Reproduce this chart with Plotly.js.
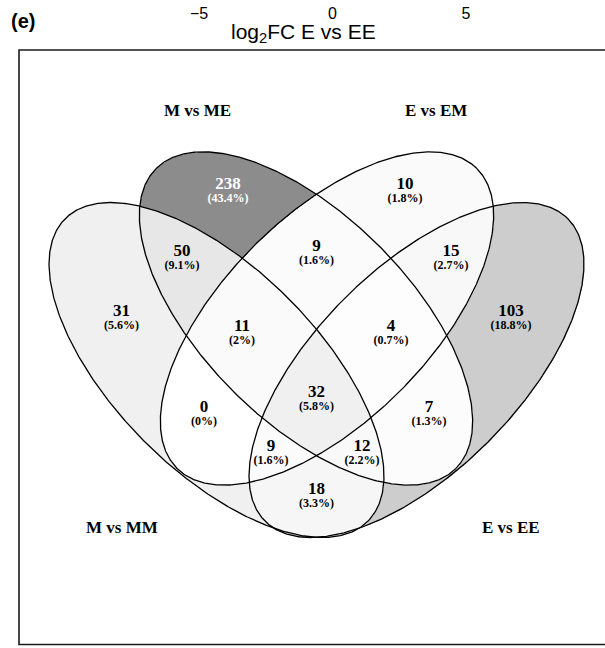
<!DOCTYPE html>
<html>
<head>
<meta charset="utf-8">
<script src="https://cdn.plot.ly/plotly-3.0.1.min.js"></script>
<style>html,body{margin:0;padding:0;background:#fff;}#chart{width:605px;height:648px;}</style>
</head>
<body>
<div id="chart"></div>
<script>
// ---- data ----
const setNames = ['M vs MM', 'M vs ME', 'E vs EM', 'E vs EE'];          // sets A, B, C, D
const regionSets = ['A', 'B', 'C', 'D', 'AB', 'AC', 'AD', 'BC', 'BD', 'CD', 'ABC', 'ABD', 'ACD', 'BCD', 'ABCD'];
const regionCounts = [31, 238, 10, 103, 50, 0, 18, 9, 7, 15, 11, 12, 9, 4, 32];
const regionPercents = ['5.6%', '43.4%', '1.8%', '18.8%', '9.1%', '0%', '3.3%', '1.6%', '1.3%', '2.7%', '2%', '2.2%', '1.6%', '0.7%', '5.8%'];
const topTickVals = [-5, 0, 5];
const topAxisTitle = 'log<sub>2</sub>FC E vs EE';
const panelTag = '(e)';

// ---- layout geometry (pixel-like coordinates, y downward) ----
const ellipses = [
  {cx: 216.5, cy: 370, a: 214, b: 101.5, ang: 45},
  {cx: 306, cy: 318.5, a: 212, b: 103, ang: 45},
  {cx: 327, cy: 318.5, a: 212, b: 103, ang: -45},
  {cx: 416.5, cy: 370, a: 214, b: 101.5, ang: -45}
];
const labelPos = {
  A: [121.5, 312], B: [228, 185], C: [405, 185], D: [511, 312],
  AB: [182, 252], AC: [204, 408], AD: [316.5, 490], BC: [316.5, 247],
  BD: [429, 408], CD: [451, 252], ABC: [242, 327], ABD: [362, 447],
  ACD: [271, 447], BCD: [391, 327], ABCD: [316.5, 393]
};
const setLabelPos = [[121.5, 527], [197, 110], [436, 110], [511, 527]];
const letters = ['A', 'B', 'C', 'D'];

function inside(e, x, y) {
  const t = e.ang * Math.PI / 180;
  const dx = x - e.cx, dy = y - e.cy;
  const u = dx * Math.cos(t) + dy * Math.sin(t);
  const v = -dx * Math.sin(t) + dy * Math.cos(t);
  return (u * u) / (e.a * e.a) + (v * v) / (e.b * e.b) <= 1;
}

const regionIndex = {};
regionSets.forEach((k, i) => regionIndex[k] = i);

// fill raster: each cell coloured by the count of its region
const gx = [], gy = [], gz = [];
for (let x = 40; x <= 595; x += 1) gx.push(x);
for (let y = 145; y <= 545; y += 1) gy.push(y);
for (const y of gy) {
  const row = [];
  for (const x of gx) {
    let key = '';
    ellipses.forEach((e, i) => { if (inside(e, x, y)) key += letters[i]; });
    row.push(key ? regionCounts[regionIndex[key]] : null);
  }
  gz.push(row);
}
const maxCount = Math.max(...regionCounts);

const traces = [{
  type: 'heatmap', x: gx, y: gy, z: gz, zmin: 0, zmax: maxCount,
  colorscale: [[0, 'rgb(255,255,255)'], [1, 'rgb(140,140,140)']],
  showscale: false, hoverinfo: 'skip', xaxis: 'x', yaxis: 'y'
}];

// outlines
ellipses.forEach(e => {
  const t = e.ang * Math.PI / 180, xs = [], ys = [];
  for (let k = 0; k <= 720; k++) {
    const s = k / 720 * 2 * Math.PI;
    const u = e.a * Math.cos(s), v = e.b * Math.sin(s);
    xs.push(e.cx + u * Math.cos(t) - v * Math.sin(t));
    ys.push(e.cy + u * Math.sin(t) + v * Math.cos(t));
  }
  traces.push({type: 'scatter', mode: 'lines', x: xs, y: ys,
    line: {color: '#000', width: 1.3}, hoverinfo: 'skip', showlegend: false});
});

const serif = 'Liberation Serif, Times New Roman, serif';
const countColors = regionCounts.map(c => c === maxCount ? '#ffffff' : '#000000');
traces.push({
  type: 'scatter', mode: 'text',
  x: regionSets.map(k => labelPos[k][0]), y: regionSets.map(k => labelPos[k][1]),
  text: regionCounts.map(String),
  textfont: {family: serif, size: 17, weight: 'bold', color: countColors},
  hoverinfo: 'skip', showlegend: false
});
traces.push({
  type: 'scatter', mode: 'text',
  x: regionSets.map(k => labelPos[k][0]), y: regionSets.map(k => labelPos[k][1] + 14),
  text: regionPercents.map(p => '(' + p + ')'),
  textfont: {family: serif, size: 12, weight: 'bold', color: countColors},
  hoverinfo: 'skip', showlegend: false
});

// invisible trace to activate the top axis
traces.push({type: 'scatter', mode: 'markers', x: [0], y: [0], xaxis: 'x2', yaxis: 'y',
  marker: {opacity: 0}, hoverinfo: 'skip', showlegend: false});

const annotations = setNames.map((n, i) => ({
  x: setLabelPos[i][0], y: setLabelPos[i][1], xref: 'x', yref: 'y', text: n, showarrow: false,
  font: {family: serif, size: 17, weight: 'bold', color: '#000'}, xanchor: 'center', yanchor: 'middle'
}));
annotations.push({x: 303, y: 33, xref: 'x', yref: 'y', text: topAxisTitle, showarrow: false,
  font: {family: 'Liberation Sans, Arial, sans-serif', size: 21, color: '#000'}, xanchor: 'center', yanchor: 'middle'});
annotations.push({x: 22.5, y: 21, xref: 'x', yref: 'y', text: '<b>' + panelTag + '</b>', showarrow: false,
  font: {family: 'Liberation Sans, Arial, sans-serif', size: 20, color: '#000'}, xanchor: 'center', yanchor: 'middle'});

const pxPerUnit = 26.7, zeroPx = 332.5;
const layout = {
  width: 605, height: 648, margin: {l: 0, r: 0, t: 0, b: 0},
  paper_bgcolor: '#fff', plot_bgcolor: 'rgba(0,0,0,0)', showlegend: false,
  xaxis: {range: [0, 605], visible: false, fixedrange: true, domain: [0, 1]},
  yaxis: {range: [648, 0], visible: false, fixedrange: true, domain: [0, 1]},
  xaxis2: {overlaying: 'x', anchor: 'free', position: 1 - 22 / 648, side: 'top',
    range: [-zeroPx / pxPerUnit, (605 - zeroPx) / pxPerUnit],
    tickvals: topTickVals, ticks: '', showline: false, showgrid: false, zeroline: false,
    tickfont: {family: 'Liberation Sans, Arial, sans-serif', size: 16, color: '#000'}, fixedrange: true},
  shapes: [{type: 'path', xref: 'x', yref: 'y', path: 'M 660 50 L 19 50 L 19 644.5 L 660 644.5',
    line: {color: '#1a1a1a', width: 1.6}, fillcolor: 'rgba(0,0,0,0)', layer: 'above'}],
  annotations: annotations
};

Plotly.newPlot('chart', traces, layout, {staticPlot: true, displayModeBar: false});
</script>
</body>
</html>
